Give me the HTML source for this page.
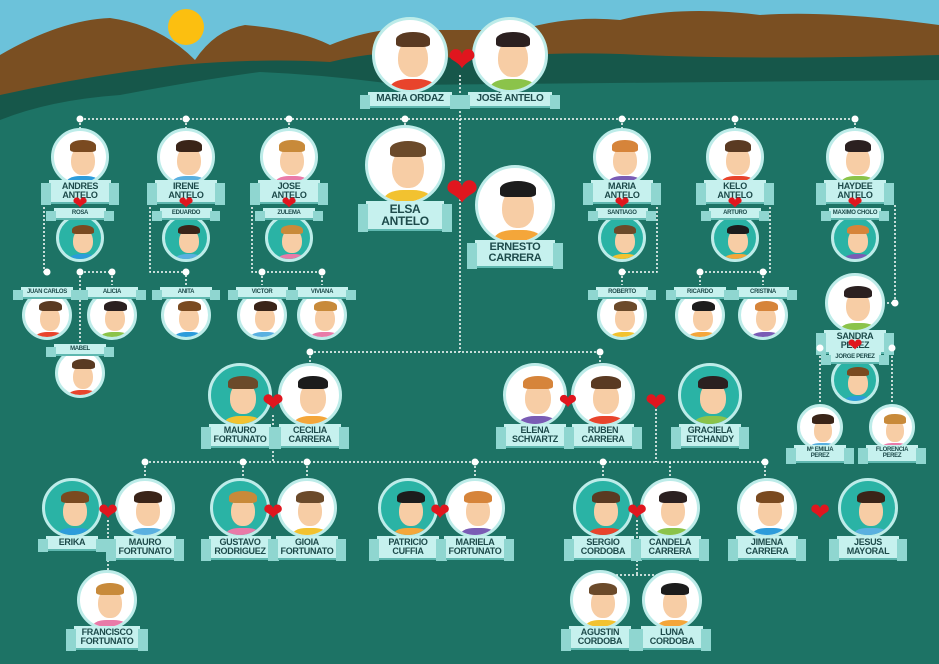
<!DOCTYPE html>
<html><head><meta charset="utf-8">
<style>
html,body{margin:0;padding:0}
body{width:939px;height:664px;overflow:hidden;position:relative;background:#1d7365;font-family:"Liberation Sans",sans-serif}
.n{position:absolute;border-radius:50%;box-sizing:border-box;border:3px solid #bdece9;overflow:hidden}
.face{position:absolute;border-radius:50% 50% 45% 45%;background:#f7cda5}
.hair{position:absolute;border-radius:50% 50% 20% 20%}
.body{position:absolute;border-radius:40% 40% 0 0}
.lab{position:absolute;background:#c6f1ee;color:#1d4a4a;font-weight:bold;text-align:center;line-height:1;box-shadow:0 2px 0 #5fb8b0;transform:translateX(-50%);letter-spacing:-0.3px}
.lab:before,.lab:after{content:"";position:absolute;top:3px;bottom:-3px;width:10px;background:#8fd6d0;z-index:-1}
.lab:before{left:-8px}.lab:after{right:-8px}
.h{position:absolute;color:#e0161e;line-height:1;transform:translate(-50%,-50%)}
.dot{position:absolute;width:7px;height:7px;border-radius:50%;background:#fff;transform:translate(-50%,-50%)}
</style></head><body>
<svg width="939" height="664" style="position:absolute;left:0;top:0">
<rect width="939" height="120" fill="#6cc2da"/>
<path d="M0 55 Q60 20 110 18 Q160 25 195 60 Q215 30 245 25 Q300 30 330 45 Q380 25 420 30 L520 30 Q570 15 620 20 Q680 5 760 15 Q830 10 939 25 L939 120 L0 120Z" fill="#7a4f22"/>
<path d="M0 95 Q90 75 180 65 Q260 58 330 62 Q400 45 460 60 Q560 50 640 55 Q760 60 939 55 L939 130 L0 130Z" fill="#16574a"/>
<path d="M0 120 Q50 100 120 95 Q200 80 260 72 Q330 75 400 85 L939 80 L939 664 L0 664Z" fill="#1d7365"/>
<circle cx="186" cy="27" r="18" fill="#fcbf10"/>
<g stroke="#fff" stroke-width="1.5" stroke-dasharray="2 2" fill="none">
<path d="M80 119 H855 M460 75 V352 M310 352 H600"/>
<path d="M80 119 V128 M186 119 V128 M289 119 V128 M405 119 V125 M622 119 V128 M735 119 V128 M855 119 V128"/>
<path d="M44 207 V272 H47 M80 272 H112 M80 272 V350 M112 272 V285"/>
<path d="M150 207 V272 H186 V285"/>
<path d="M252 207 V272 H322 M262 272 V285 M322 272 V285"/>
<path d="M657 207 V272 H622 V285"/>
<path d="M770 207 V272 H700 M700 272 V285 M763 272 V285"/>
<path d="M895 205 V303 H886"/>
<path d="M820 348 V405 M892 348 V405 M820 348 H892"/>
<path d="M310 352 V370 M600 352 V370"/>
<path d="M273 415 V462 M145 462 H765 M145 462 V480 M243 462 V480 M307 462 V480 M475 462 V480"/>
<path d="M656 405 V462 M603 462 V480 M670 462 V480 M765 462 V480 M603 462"/>
<path d="M108 520 V575 M637 520 V575 M600 575 H672"/>
</g>
</svg>
<div id="c"></div>
<script>
var c=document.getElementById('c'),h='';
var hairs=['#5a3a22','#2b2020','#7a4a20','#3a2418','#c88a3a','#6b4a2a','#1c1c1c','#d6843a'];
var shirts=['#e8442c','#5ab0e0','#f4a63a','#8bc34a','#e97aa8','#7a5cb5','#2d9cdb','#f2c230'];
var i=0;
function N(x,y,r,lines,ly,lw,fs,teal){
 var hc=hairs[i%8],sc=shirts[(i*3)%8];i++;
 var d=2*r;
 h+='<div class="n" style="left:'+(x-r)+'px;top:'+(y-r)+'px;width:'+d+'px;height:'+d+'px;background:'+(teal?'#2ab3a5':'#fff')+'">';
 h+='<div class="body" style="left:'+(d*0.2)+'px;top:'+(d*0.78)+'px;width:'+(d*0.6)+'px;height:'+(d*0.3)+'px;background:'+sc+'"></div>';
 h+='<div class="face" style="left:'+(d*0.3)+'px;top:'+(d*0.25)+'px;width:'+(d*0.4)+'px;height:'+(d*0.5)+'px"></div>';
 h+='<div class="hair" style="left:'+(d*0.27)+'px;top:'+(d*0.16)+'px;width:'+(d*0.46)+'px;height:'+(d*0.2)+'px;background:'+hc+'"></div>';
 h+='</div>';
 if(lines){
  var lh=fs*lines.length+4;
  h+='<div class="lab" style="left:'+x+'px;top:'+ly+'px;width:'+lw+'px;height:'+lh+'px;font-size:'+fs+'px;padding-top:2px;box-sizing:border-box">'+lines.join('<br>')+'</div>';
 }
}
function H(x,y,s){h+='<div class="h" style="left:'+x+'px;top:'+y+'px;font-size:'+s+'px">&#10084;</div>';}
function D(x,y){h+='<div class="dot" style="left:'+x+'px;top:'+y+'px"></div>';}
// top
N(410,55,38,['MARIA ORDAZ'],92,84,10);N(510,55,38,['JOSÉ ANTELO'],92,84,10);H(462,60,34);
// gen2
N(80,157,29,['ANDRES','ANTELO'],180,62,9);N(186,157,29,['IRENE','ANTELO'],180,62,9);N(289,157,29,['JOSE','ANTELO'],180,62,9);
N(405,165,40,['ELSA','ANTELO'],201,78,12);N(515,205,40,['ERNESTO','CARRERA'],240,80,11);H(462,193,40);
N(622,157,29,['MARIA','ANTELO'],180,62,9);N(735,157,29,['KELO','ANTELO'],180,62,9);N(855,157,29,['HAYDEE','ANTELO'],180,62,9);
[[80,'ROSA'],[186,'EDUARDO'],[289,'ZULEMA'],[622,'SANTIAGO'],[735,'ARTURO'],[855,'MAXIMO CHOLO']].forEach(function(a){N(a[0],238,24,[a[1]],208,52,6,1);H(a[0],203,18);});
[[47,'JUAN CARLOS'],[112,'ALICIA'],[186,'ANITA'],[262,'VICTOR'],[322,'VIVIANA'],[622,'ROBERTO'],[700,'RICARDO'],[763,'CRISTINA']].forEach(function(a){N(a[0],315,25,[a[1]],287,52,6);});
N(80,373,25,['MABEL'],344,52,6);
N(855,303,30,['SANDRA','PEREZ'],330,62,9);N(855,380,24,['JORGE PEREZ'],352,52,6,1);H(855,345,18);
N(820,427,23,['Mª EMILIA','PEREZ'],445,52,6);N(892,427,23,['FLORENCIA','PEREZ'],445,52,6);
// gen3
N(240,395,32,['MAURO','FORTUNATO'],424,62,9,1);N(310,395,32,['CECILIA','CARRERA'],424,62,9);H(273,402,26);
N(535,395,32,['ELENA','SCHVARTZ'],424,62,9);N(603,395,32,['RUBEN','CARRERA'],424,62,9);H(568,402,22);H(656,402,26);
N(710,395,32,['GRACIELA','ETCHANDY'],424,62,9,1);
// gen4
N(72,508,30,['ERIKA'],536,52,9,1);N(145,508,30,['MAURO','FORTUNATO'],536,62,9);H(108,513,24);
N(240,508,30,['GUSTAVO','RODRIGUEZ'],536,62,9,1);N(307,508,30,['GIOIA','FORTUNATO'],536,62,9);H(273,513,24);
N(408,508,30,['PATRICIO','CUFFIA'],536,62,9,1);N(475,508,30,['MARIELA','FORTUNATO'],536,62,9);H(440,513,24);
N(603,508,30,['SERGIO','CORDOBA'],536,62,9,1);N(670,508,30,['CANDELA','CARRERA'],536,62,9);H(637,513,24);
N(767,508,30,['JIMENA','CARRERA'],536,62,9);N(868,508,30,['JESUS','MAYORAL'],536,62,9,1);H(820,513,24);
N(107,600,30,['FRANCISCO','FORTUNATO'],626,66,9);N(600,600,30,['AGUSTIN','CORDOBA'],626,62,9);N(672,600,30,['LUNA','CORDOBA'],626,62,9);
[[80,119],[186,119],[289,119],[405,119],[622,119],[735,119],[855,119],[47,272],[80,272],[112,272],[186,272],[262,272],[322,272],[622,272],[700,272],[763,272],[895,303],[820,348],[892,348],[310,352],[600,352],[145,462],[243,462],[307,462],[475,462],[603,462],[765,462]].forEach(function(p){D(p[0],p[1]);});
c.innerHTML=h;
</script>
</body></html>
